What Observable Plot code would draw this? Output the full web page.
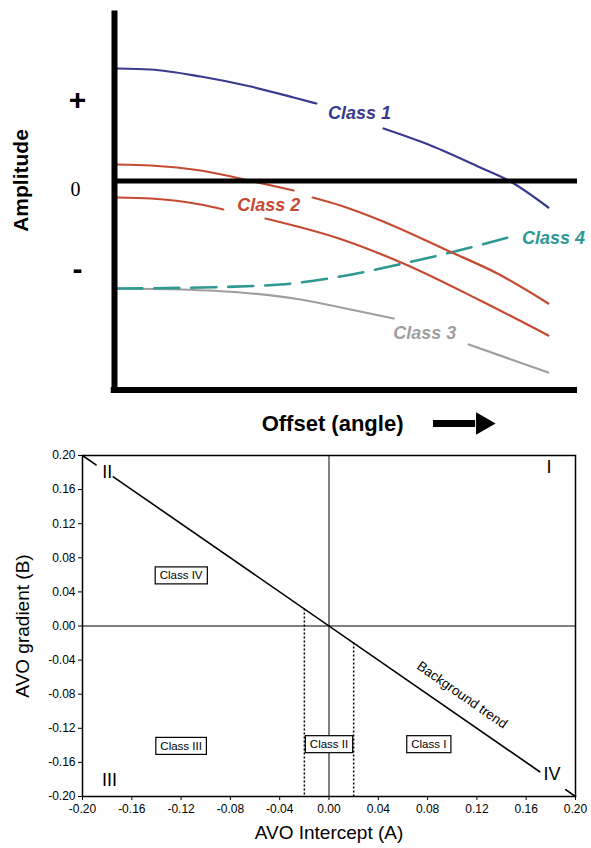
<!DOCTYPE html>
<html>
<head>
<meta charset="utf-8">
<script src="https://cdn.jsdelivr.net/npm/d3@7"></script>
<script src="https://cdn.jsdelivr.net/npm/@observablehq/plot@0.6"></script>
<style>
  html, body { margin: 0; padding: 0; background: white; }
  svg { display: block; }
</style>
</head>
<body>
<div id="chart"></div>
<script>
// ---------- Top panel: schematic AVO classes (amplitude vs offset) ----------
const class1Offset = [0.006, 0.078, 0.186, 0.294, 0.387, 0.436, 0.581, 0.683, 0.790, 0.855, 0.937];
const class1Amp    = [1.125, 1.115, 1.045, 0.945, 0.835, 0.775, 0.525, 0.355, 0.135, -0.005, -0.265];
const class1Seg    = [0, 0, 0, 0, 0, 0, 1, 1, 1, 1, 1];

const class2aOffset = [0.006, 0.078, 0.186, 0.300, 0.387, 0.428, 0.488, 0.575, 0.719, 0.827, 0.937];
const class2aAmp    = [0.165, 0.155, 0.105, -0.005, -0.095, -0.165, -0.245, -0.395, -0.695, -0.925, -1.225];
const class2aSeg    = [0, 0, 0, 0, 0, 1, 1, 1, 1, 1, 1];

const class2bOffset = [0.006, 0.078, 0.186, 0.235, 0.326, 0.488, 0.624, 0.790, 0.937];
const class2bAmp    = [-0.165, -0.175, -0.235, -0.285, -0.375, -0.580, -0.825, -1.195, -1.545];
const class2bSeg    = [0, 0, 0, 0, 1, 1, 1, 1, 1];

const class3Offset = [0.006, 0.143, 0.272, 0.402, 0.510, 0.603, 0.765, 0.937];
const class3Amp    = [-1.075, -1.085, -1.115, -1.185, -1.285, -1.375, -1.635, -1.915];
const class3Seg    = [0, 0, 0, 0, 0, 0, 1, 1];

const class4Offset = [0.006, 0.186, 0.359, 0.488, 0.624, 0.726, 0.851];
const class4Amp    = [-1.075, -1.065, -1.035, -0.955, -0.825, -0.715, -0.565];

const classNames   = ["Class 1", "Class 2", "Class 3", "Class 4"];
const classLabelX  = [0.529, 0.333, 0.670, 0.948];
const classLabelY  = [0.675, -0.245, -1.525, -0.575];
const classColors  = ["#3a3a8e", "#c54a32", "#9f9f9f", "#2e9992"];

const ampTickLabels = ["+", "0", "-"];
const ampTickValues = [0.805, -0.09, -0.885];

// ---------- Bottom panel: AVO intercept / gradient crossplot ----------
const axisTicks = [-0.20, -0.16, -0.12, -0.08, -0.04, 0.00, 0.04, 0.08, 0.12, 0.16, 0.20];

const trendIntercept = [-0.200, -0.189, -0.175, 0.171, 0.192, 0.200];
const trendGradient  = [0.200, 0.189, 0.175, -0.171, -0.192, -0.200];
const trendSeg       = [0, 0, 1, 1, 2, 2];

const cutoffIntercept = [-0.02, 0.02];
const cutoffTop       = [0.02, -0.02];

const quadrantLabels = ["I", "II", "III", "IV"];
const quadrantA      = [0.1785, -0.180, -0.178, 0.181];
const quadrantB      = [0.186, 0.180, -0.1806, -0.174];

const classBoxLabels = ["Class IV", "Class III", "Class II", "Class I"];
const classBoxA      = [-0.12, -0.12, 0.0, 0.081];
const classBoxB      = [0.059, -0.141, -0.139, -0.139];

const rows = (xs, ys, segs) => xs.map((x, i) => ({x, y: ys[i], seg: segs ? segs[i] : 0}));
const font = "'Liberation Sans', Arial, Helvetica, sans-serif";

const topPlot = Plot.plot({
  width: 591, height: 440,
  marginLeft: 114, marginRight: 14, marginTop: 10.5, marginBottom: 49.5,
  x: {domain: [0, 1], axis: null},
  y: {domain: [-2.1, 1.7], axis: null},
  style: {fontFamily: font, background: "white", color: "black", overflow: "visible"},
  marks: [
    Plot.line(rows(class3Offset, class3Amp, class3Seg), {x: "x", y: "y", z: "seg", stroke: classColors[2], strokeWidth: 2.2, curve: "monotone-x"}),
    Plot.line(rows(class4Offset, class4Amp), {x: "x", y: "y", stroke: classColors[3], strokeWidth: 2.6, strokeDasharray: "25,12", curve: "monotone-x"}),
    Plot.line(rows(class2aOffset, class2aAmp, class2aSeg), {x: "x", y: "y", z: "seg", stroke: classColors[1], strokeWidth: 2.2, curve: "monotone-x"}),
    Plot.line(rows(class2bOffset, class2bAmp, class2bSeg), {x: "x", y: "y", z: "seg", stroke: classColors[1], strokeWidth: 2.2, curve: "monotone-x"}),
    Plot.line(rows(class1Offset, class1Amp, class1Seg), {x: "x", y: "y", z: "seg", stroke: classColors[0], strokeWidth: 2.2, curve: "monotone-x"}),
    Plot.ruleY([0], {x1: 0, x2: 1, stroke: "black", strokeWidth: 5}),
    Plot.ruleX([0], {y1: -2.12, y2: 1.7, stroke: "black", strokeWidth: 6}),
    Plot.ruleY([-2.09], {x1: -0.007, x2: 1, stroke: "black", strokeWidth: 6}),
    Plot.text(classNames, {x: (d, i) => classLabelX[i], y: (d, i) => classLabelY[i], text: d => d,
      fill: (d, i) => classColors[i], fontSize: 18, fontWeight: "bold", fontStyle: "italic"}),
    Plot.text(ampTickLabels, {filter: (d, i) => i !== 1, x: -0.08, y: (d, i) => ampTickValues[i], text: d => d,
      fontSize: 30, fontWeight: "bold"}),
    Plot.text(ampTickLabels, {filter: (d, i) => i === 1, x: -0.084, y: (d, i) => ampTickValues[i], text: d => d,
      fontSize: 20, fontFamily: "'Liberation Serif', 'DejaVu Serif', serif"}),
    Plot.text(["Amplitude"], {x: -0.201, y: 0.005, rotate: -90, fontSize: 21, fontWeight: "bold"}),
    Plot.text(["Offset (angle)"], {x: 0.471, y: -2.425, fontSize: 22, fontWeight: "bold"}),
    Plot.ruleY([-2.425], {x1: 0.689, x2: 0.78, stroke: "black", strokeWidth: 7}),
    Plot.dot([0], {x: 0.795, y: -2.425, symbol: "triangle", rotate: 90, r: 8.4, fill: "black", stroke: "none"})
  ]
});

const fmt = d => (Math.abs(d) < 1e-9 ? 0 : d).toFixed(2);

const bottomPlot = Plot.plot({
  width: 591, height: 408,
  marginLeft: 82, marginRight: 16, marginTop: 15, marginBottom: 52,
  x: {domain: [-0.2, 0.2], ticks: axisTicks, tickFormat: fmt, tickSize: 4, tickPadding: 4, label: null},
  y: {domain: [-0.2, 0.2], ticks: axisTicks, tickFormat: fmt, tickSize: 4, tickPadding: 3, label: null},
  style: {fontFamily: font, fontSize: "11.5px", background: "white", color: "black", overflow: "visible"},
  marks: [
    Plot.ruleX([0], {stroke: "black", strokeWidth: 1}),
    Plot.ruleY([0], {stroke: "black", strokeWidth: 1}),
    Plot.ruleX(cutoffIntercept, {x: d => d, y1: (d, i) => cutoffTop[i], y2: -0.2, stroke: "black", strokeWidth: 1.5, strokeDasharray: "2,2"}),
    Plot.line(rows(trendIntercept, trendGradient, trendSeg), {x: "x", y: "y", z: "seg", stroke: "black", strokeWidth: 1.6}),
    Plot.frame({stroke: "black", strokeWidth: 1.5}),
    Plot.text(["Background trend"], {x: 0.108, y: -0.081, rotate: 35, fontSize: 13.5}),
    Plot.text(quadrantLabels, {x: (d, i) => quadrantA[i], y: (d, i) => quadrantB[i], text: d => d, fontSize: 18}),
    Plot.text(classBoxLabels, {x: (d, i) => classBoxA[i], y: (d, i) => classBoxB[i], text: d => d, fontSize: 11.5, ariaDescription: "classbox"}),
    Plot.text(["AVO gradient (B)"], {frameAnchor: "left", dx: -60, rotate: -90, fontSize: 19, textAnchor: "middle", lineAnchor: "middle"}),
    Plot.text(["AVO Intercept (A)"], {frameAnchor: "bottom", dy: 36, fontSize: 19, textAnchor: "middle", lineAnchor: "middle"})
  ]
});

const host = document.getElementById("chart");
host.append(topPlot, bottomPlot);

// enlarge the axis tick labels of the crossplot (any text that is a tick value)
bottomPlot.querySelectorAll("text").forEach(t => {
  if (/^-?\d\.\d\d$/.test(t.textContent.trim())) {
    t.setAttribute("font-size", "12");
    t.style.setProperty("font-size", "12px", "important");
  }
});

// draw outlined boxes behind the class labels
const ns = "http://www.w3.org/2000/svg";
bottomPlot.querySelectorAll('g[aria-description="classbox"] text').forEach(t => {
  const b = t.getBBox();
  const r = document.createElementNS(ns, "rect");
  r.setAttribute("x", b.x - 4.5);
  r.setAttribute("y", b.y - 2.5);
  r.setAttribute("width", b.width + 9);
  r.setAttribute("height", b.height + 5);
  r.setAttribute("fill", "white");
  r.setAttribute("stroke", "black");
  r.setAttribute("stroke-width", "1.2");
  const tr = t.getAttribute("transform");
  if (tr) r.setAttribute("transform", tr);
  t.parentNode.insertBefore(r, t);
});
</script>
</body>
</html>
